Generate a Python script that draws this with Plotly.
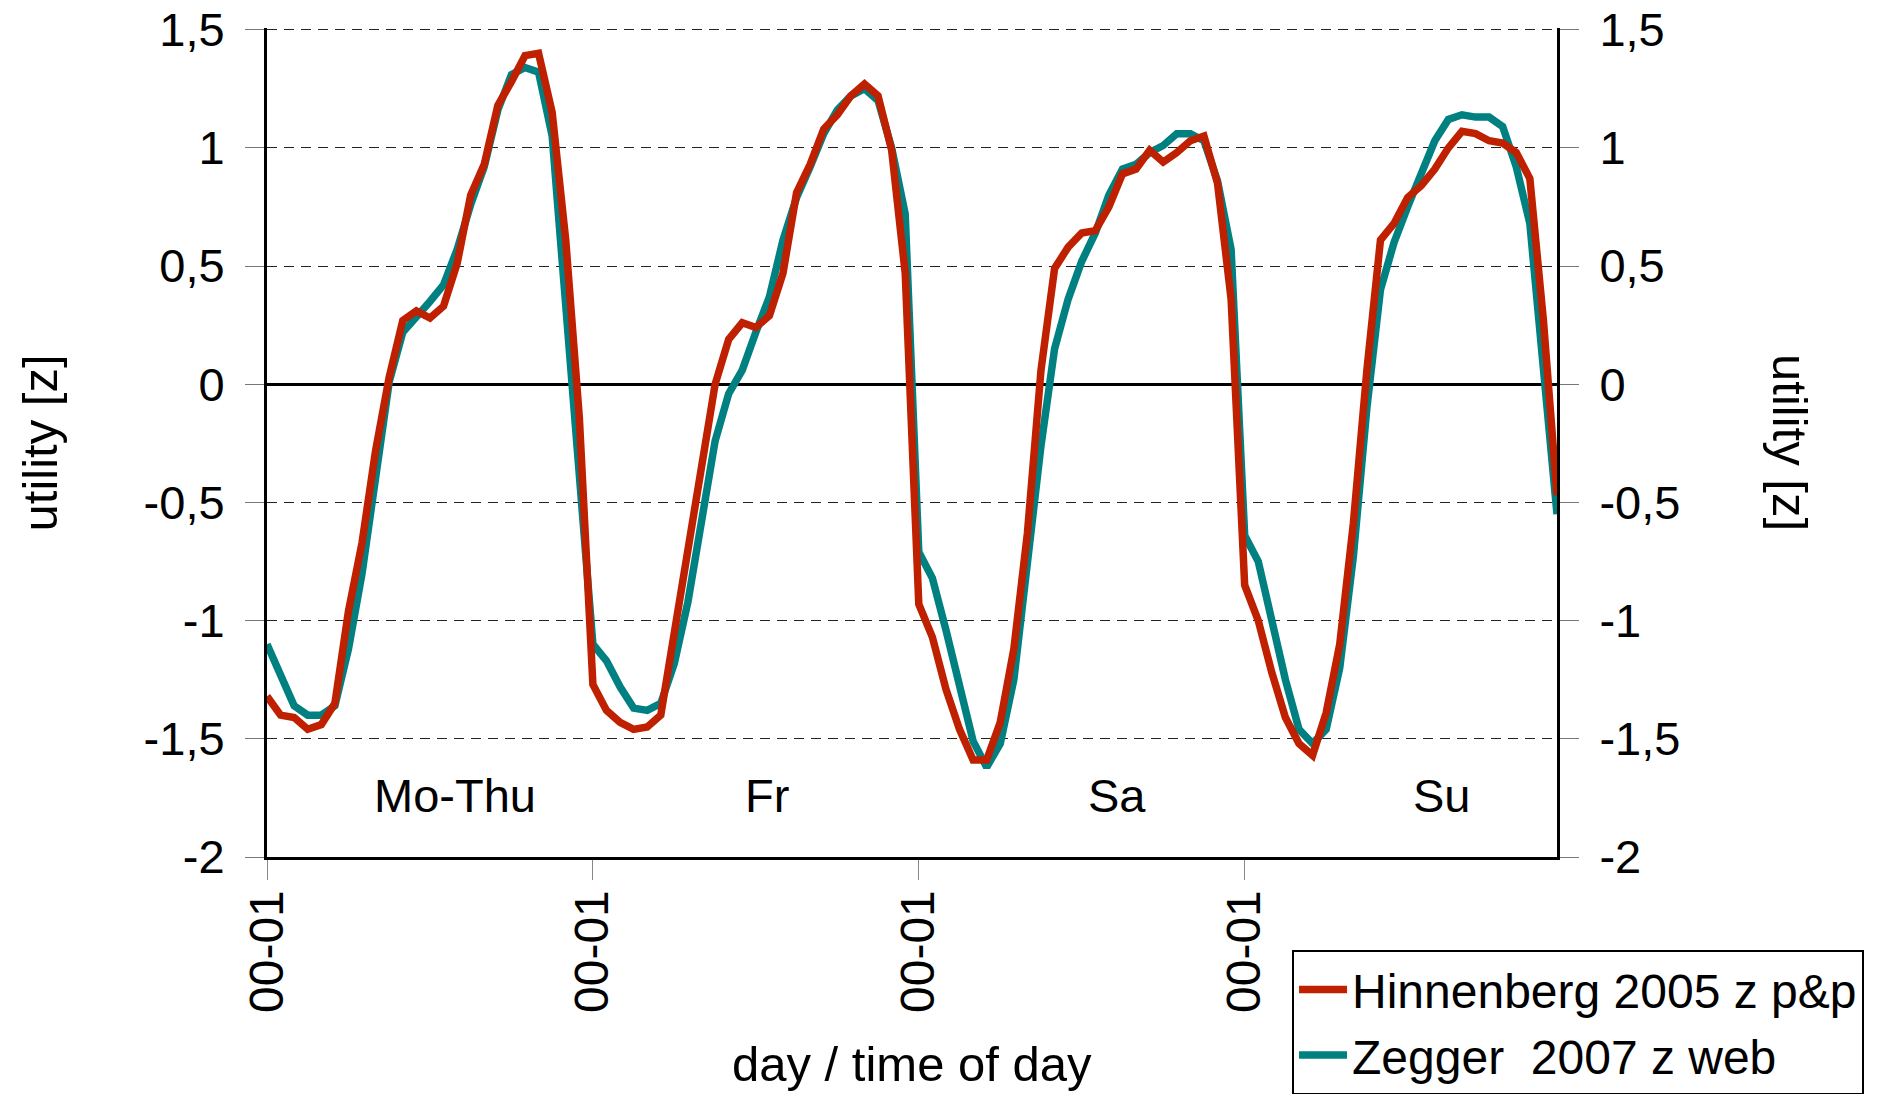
import plotly.graph_objects as go

# ---------------- data ----------------
hinnenberg = [
    -1.32, -1.40, -1.41, -1.46, -1.44, -1.35, -0.96, -0.67, -0.28, 0.03, 0.27, 0.31,
    0.28, 0.33, 0.51, 0.80, 0.93, 1.18, 1.28, 1.39, 1.40, 1.15, 0.61, -0.14,
    -1.27, -1.38, -1.43, -1.46, -1.45, -1.40, -1.05, -0.71, -0.37, 0.00, 0.19, 0.26,
    0.24, 0.29, 0.47, 0.81, 0.93, 1.08, 1.14, 1.22, 1.27, 1.22, 0.99, 0.47,
    -0.93, -1.07, -1.29, -1.46, -1.59, -1.59, -1.43, -1.12, -0.63, 0.06, 0.49, 0.58,
    0.64, 0.65, 0.75, 0.89, 0.91, 0.99, 0.94, 0.98, 1.03, 1.05, 0.85, 0.36,
    -0.85, -1.00, -1.22, -1.41, -1.52, -1.57, -1.39, -1.10, -0.59, 0.06, 0.61, 0.68,
    0.79, 0.84, 0.91, 1.00, 1.07, 1.06, 1.03, 1.02, 0.98, 0.87, 0.27, -0.47,
]
zegger = [
    -1.10, -1.24, -1.36, -1.40, -1.40, -1.36, -1.12, -0.80, -0.38, 0.01, 0.22, 0.28,
    0.35, 0.42, 0.57, 0.76, 0.92, 1.16, 1.31, 1.34, 1.32, 1.05, 0.35, -0.35,
    -1.10, -1.17, -1.28, -1.37, -1.38, -1.35, -1.18, -0.92, -0.57, -0.24, -0.04, 0.06,
    0.22, 0.37, 0.61, 0.79, 0.92, 1.06, 1.16, 1.22, 1.25, 1.20, 1.00, 0.72,
    -0.71, -0.82, -1.04, -1.29, -1.51, -1.62, -1.52, -1.25, -0.75, -0.26, 0.15, 0.36,
    0.52, 0.64, 0.80, 0.91, 0.93, 0.98, 1.01, 1.06, 1.06, 1.03, 0.86, 0.57,
    -0.64, -0.75, -1.00, -1.25, -1.46, -1.52, -1.46, -1.20, -0.73, -0.10, 0.40, 0.60,
    0.75, 0.90, 1.03, 1.12, 1.14, 1.13, 1.13, 1.09, 0.92, 0.68, 0.02, -0.55,
]
hour_index = list(range(len(hinnenberg)))
x_tick_positions = [0, 24, 48, 72]
x_tick_labels = ["00-01", "00-01", "00-01", "00-01"]
y_tick_values = [-2, -1.5, -1, -0.5, 0, 0.5, 1, 1.5]
y_tick_labels = ["-2", "-1,5", "-1", "-0,5", "0", "0,5", "1", "1,5"]
day_labels = ["Mo-Thu", "Fr", "Sa", "Su"]
day_label_x = [13.85, 36.8, 62.6, 86.5]
series_names = ["Hinnenberg 2005 z p&p", "Zegger  2007 z web"]

RED = "#BF2000"
TEAL = "#008080"
FONT = "Liberation Sans, Arial, sans-serif"
FS = 47
LW = 7.5

fig = go.Figure()
fig.add_trace(go.Scatter(
    x=hour_index, y=zegger, mode="lines", name=series_names[1],
    line=dict(color=TEAL, width=LW), legendgroup="b", legendrank=2,
))
fig.add_trace(go.Scatter(
    x=hour_index, y=hinnenberg, mode="lines", name=series_names[0],
    line=dict(color=RED, width=LW), legendgroup="a", legendrank=1,
))
# invisible trace to carry the right-hand axis
fig.add_trace(go.Scatter(
    x=hour_index, y=hinnenberg, mode="lines", yaxis="y2",
    line=dict(color="rgba(0,0,0,0)", width=0), showlegend=False, hoverinfo="skip",
))

YR = [-2, 1.507]
yaxis_common = dict(
    range=YR, tickmode="array", tickvals=y_tick_values, ticktext=y_tick_labels,
    showline=True, linecolor="black", linewidth=3,
    ticks="outside", ticklen=19, tickcolor="#777", tickwidth=1,
    tickfont=dict(family=FONT, size=FS, color="black"),
    ticklabelstandoff=11, ticklabeloverflow="allow",
    fixedrange=True, automargin=False,
)

# the page body adds an 8px offset; margins compensate so the plot area
# lands at the same place as the reference
fig.update_layout(
    width=1895, height=1086,
    margin=dict(l=259, r=346, t=20, b=237, autoexpand=False),
    paper_bgcolor="white", plot_bgcolor="white",
    font=dict(family=FONT, size=FS, color="black"),
    xaxis=dict(
        range=[0, 95], tickmode="array", tickvals=x_tick_positions, ticktext=x_tick_labels,
        tickangle=-90, showgrid=False, zeroline=False,
        showline=True, linecolor="black", linewidth=3,
        ticks="outside", ticklen=20, tickcolor="#888", tickwidth=1,
        tickfont=dict(family=FONT, size=48, color="black"),
        ticklabelstandoff=-9, automargin=False,
    ),
    yaxis=dict(
        **yaxis_common,
        showgrid=True, gridcolor="#222", gridwidth=1, griddash="10px,7px",
        zeroline=True, zerolinecolor="black", zerolinewidth=2.5,
    ),
    yaxis2=dict(
        **yaxis_common,
        overlaying="y", side="right", showgrid=False, zeroline=False,
    ),
    legend=dict(
        x=0.7946, y=-0.112, xanchor="left", yanchor="top",
        bordercolor="black", borderwidth=2, bgcolor="white",
        font=dict(family=FONT, size=48, color="black"),
        traceorder="grouped", tracegroupgap=0, itemwidth=48,
    ),
    showlegend=True,
)

annotations = []
for lab, xpos in zip(day_labels, day_label_x):
    annotations.append(dict(
        x=xpos, y=-1.74, xref="x", yref="y", text=lab, showarrow=False,
        xanchor="center", yanchor="middle",
        font=dict(family=FONT, size=FS, color="black"),
    ))
annotations.append(dict(
    x=-0.176, y=0.5, xref="paper", yref="paper", text="utility [z]", textangle=-90,
    xanchor="center", yanchor="middle",
    showarrow=False, font=dict(family=FONT, size=49, color="black"),
))
annotations.append(dict(
    x=1.1810, y=0.5, xref="paper", yref="paper", text="utility [z]", textangle=90,
    xanchor="center", yanchor="middle",
    showarrow=False, font=dict(family=FONT, size=49, color="black"),
))
annotations.append(dict(
    x=0.5, y=-0.2497, xref="paper", yref="paper", text="day / time of day",
    xanchor="center", yanchor="middle",
    showarrow=False, font=dict(family=FONT, size=49, color="black"),
))
fig.update_layout(annotations=annotations)

fig.write_html("out.html")
